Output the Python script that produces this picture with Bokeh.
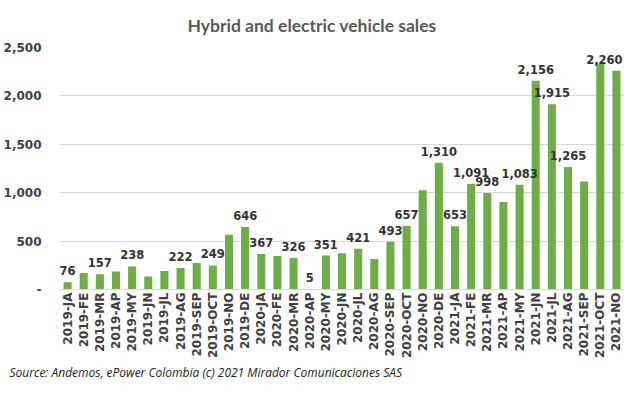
import math
from bokeh.plotting import figure
from bokeh.models import (ColumnDataSource, FactorRange, FixedTicker, NumeralTickFormatter, Title)
from bokeh.core.properties import value
from bokeh.embed import file_html
from bokeh.resources import INLINE

months = ["2019-JA", "2019-FE", "2019-MR", "2019-AP", "2019-MY", "2019-JN", "2019-JL", "2019-AG",
          "2019-SEP", "2019-OCT", "2019-NO", "2019-DE",
          "2020-JA", "2020-FE", "2020-MR", "2020-AP", "2020-MY", "2020-JN", "2020-JL", "2020-AG",
          "2020-SEP", "2020-OCT", "2020-NO", "2020-DE",
          "2021-JA", "2021-FE", "2021-MR", "2021-AP", "2021-MY", "2021-JN", "2021-JL", "2021-AG",
          "2021-SEP", "2021-OCT", "2021-NO"]
sales = [76, 170, 157, 185, 238, 135, 190, 222, 275, 249, 565, 646,
         367, 345, 326, 5, 351, 375, 421, 315, 493, 657, 1025, 1310,
         653, 1091, 998, 905, 1083, 2156, 1915, 1265, 1115, 2335, 2260]
# bars whose value label is shown in the reference
labeled = ["2019-JA", "2019-MR", "2019-MY", "2019-AG", "2019-OCT", "2019-DE",
           "2020-JA", "2020-MR", "2020-AP", "2020-MY", "2020-JL", "2020-SEP", "2020-OCT", "2020-DE",
           "2021-JA", "2021-FE", "2021-MR", "2021-MY", "2021-JN", "2021-JL", "2021-AG", "2021-NO"]
y_ticks = [0, 500, 1000, 1500, 2000, 2500]

title_text = "Hybrid and electric vehicle sales"
source_text = "Source:  Andemos, ePower Colombia (c) 2021 Mirador Comunicaciones SAS"

src = ColumnDataSource(dict(x=months, y=sales))
lab_x = [m for m in labeled]
lab_y = [sales[months.index(m)] for m in labeled]
lab_t = [f"{v:,}" for v in lab_y]
lab_off = [-12 if m == months[-1] else 0 for m in labeled]
lsrc = ColumnDataSource(dict(x=lab_x, y=lab_y, t=lab_t, off=lab_off))

p = figure(width=624, height=380, output_backend="svg", toolbar_location=None,
           x_range=FactorRange(factors=months, range_padding=0), y_range=(0, 2500),
           min_border_left=52, min_border_right=0, min_border_top=0, min_border_bottom=0)

p.title.text = title_text
p.title.align = "left"
p.title.offset = 128
p.title.text_font = "Lato"
p.title.text_font_style = "bold"
p.title.text_font_size = "17.5px"
p.title.text_color = "#595959"
p.title.standoff = 24

p.vbar(x="x", top="y", width=0.5, source=src, fill_color="#6FAE47", line_color=None)
p.text(x="x", y="y", text="t", source=lsrc, x_offset="off", y_offset=-7,
       text_align="center", text_baseline="bottom",
       text_font=value("DejaVu Sans"), text_font_style="bold", text_font_size="11.5px",
       text_color="#333333")

p.outline_line_color = None
p.xgrid.grid_line_color = None
p.ygrid.grid_line_color = "#D9D9D9"
p.ygrid.ticker = FixedTicker(ticks=y_ticks)

p.yaxis.axis_label = None
p.yaxis.ticker = FixedTicker(ticks=y_ticks)
p.yaxis.formatter = NumeralTickFormatter(format="0,0")
p.yaxis.major_label_overrides = {0: "-"}
p.yaxis.axis_line_color = None
p.yaxis.major_tick_line_color = None
p.yaxis.minor_tick_line_color = None
p.yaxis.major_tick_out = 0
p.yaxis.minor_tick_out = 0
p.yaxis.major_label_standoff = 18
p.yaxis.major_label_text_font = "DejaVu Sans"
p.yaxis.major_label_text_font_style = "bold"
p.yaxis.major_label_text_font_size = "12px"
p.yaxis.major_label_text_color = "#404040"

p.xaxis.axis_label = None
p.xaxis.axis_line_color = "#D9D9D9"
p.xaxis.major_tick_line_color = None
p.xaxis.major_tick_out = 0
p.xaxis.minor_tick_line_color = None
p.xaxis.minor_tick_out = 0
p.xaxis.major_label_orientation = math.pi / 2
p.xaxis.major_label_standoff = 3
p.xaxis.major_label_text_font = "DejaVu Sans"
p.xaxis.major_label_text_font_style = "bold"
p.xaxis.major_label_text_font_size = "12px"
p.xaxis.major_label_text_color = "#404040"

p.add_layout(Title(text=source_text, align="left", text_font="Open Sans", text_font_style="italic",
                   text_font_size="12px", text_color="#222222", standoff=0, offset=-50), "below")

open("out.html", "w").write(file_html(p, INLINE))
